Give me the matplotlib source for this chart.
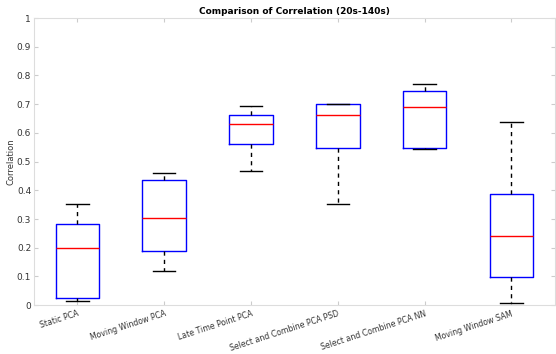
import numpy as np
import matplotlib
matplotlib.use("Agg")
import matplotlib.pyplot as plt

# box statistics
methods = ["Static PCA", "Moving Window PCA", "Late Time Point PCA",
           "Select and Combine PCA PSD", "Select and Combine PCA NN",
           "Moving Window SAM"]
whislo = [0.014, 0.118, 0.466, 0.353, 0.545, 0.008]
q1     = [0.025, 0.188, 0.562, 0.548, 0.548, 0.098]
med    = [0.200, 0.304, 0.630, 0.661, 0.691, 0.240]
q3     = [0.283, 0.437, 0.662, 0.700, 0.746, 0.386]
whishi = [0.353, 0.460, 0.693, 0.702, 0.770, 0.638]

stats = []
for i in range(len(methods)):
    stats.append(dict(label=methods[i], whislo=whislo[i], q1=q1[i], med=med[i],
                      q3=q3[i], whishi=whishi[i], fliers=[]))

fig = plt.figure(figsize=(5.56, 3.54), dpi=100)
ax = fig.add_axes([0.061, 0.138, 0.937, 0.811])

ax.bxp(stats, positions=np.arange(1, len(methods) + 1), widths=0.5,
       showfliers=False,
       boxprops=dict(color="blue", linewidth=1.0),
       medianprops=dict(color="red", linewidth=1.0),
       whiskerprops=dict(color="black", linestyle=(0, (3, 3)), linewidth=1.0),
       capprops=dict(color="black", linewidth=1.0),
       capwidths=0.26)

ax.set_xlim(0.5, len(methods) + 0.5)
ax.set_ylim(0, 1)
ax.set_yticks(np.arange(0, 1.01, 0.1))
ax.set_yticklabels(["0"] + ["%g" % v for v in np.arange(0.1, 0.95, 0.1)] + ["1"])
ax.set_xticks(np.arange(1, len(methods) + 1))
ax.set_xticklabels(methods, rotation=18, ha="right", va="top",
                   rotation_mode="anchor", fontsize=5.6, color="#333333")

ax.tick_params(axis="y", labelsize=6.5, colors="#cccccc", labelcolor="#333333",
               direction="in", length=3, right=True, pad=2)
ax.tick_params(axis="x", colors="#cccccc", labelcolor="#333333",
               direction="in", length=3, top=True, pad=3)
for s in ax.spines.values():
    s.set_color("#dddddd")

ax.set_ylabel("Correlation", fontsize=6, color="#333333", labelpad=1)
ax.set_title("Comparison of Correlation (20s-140s)", fontsize=6.5,
             fontweight="bold", pad=3)

plt.savefig("out.png", dpi=100)
